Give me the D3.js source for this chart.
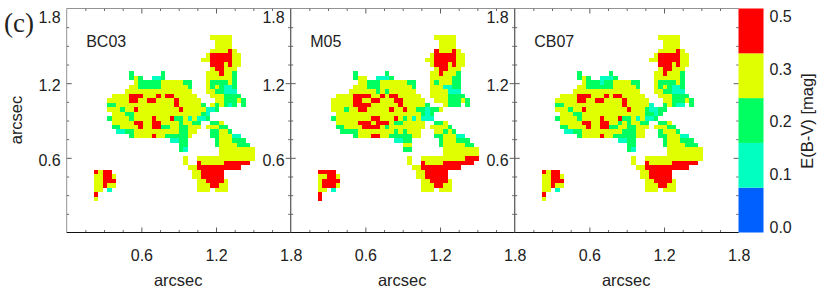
<!DOCTYPE html>
<html>
<head>
<meta charset="utf-8">
<script src="https://cdn.jsdelivr.net/npm/d3@7"></script>
<style>
  body { margin: 0; background: #fff; }
  text { font-family: "Liberation Sans", sans-serif; fill: #222; }
  .domain { display: none; }
</style>
</head>
<body>
<div id="chart"></div>
<script>
"use strict";

// E(B-V) bins, bottom of the colour bar first. b is the blue bin, no pixel uses it
var binCodes = ["b", "t", "g", "y", "r"]
var binColors = ["#0060ff", "#00ffc0", "#00ff60", "#e0ff00", "#ff0000"]
var binLabels = [0.0, 0.1, 0.2, 0.3, 0.5]

var panelNames = ["BC03", "M05", "CB07"]
var majorTicks = [0.6, 1.2, 1.8]
var minorTicks = [0.15, 0.3, 0.45, 0.75, 0.9, 1.05, 1.35, 1.5, 1.65]

// pixel maps, one string per row from the top,
// tokens are column or column range + bin code. pixels are 0.036 arcsec
var cellSize = 0.036
var firstCol = 6, firstRow = 6

var mapBC03 = [
  "26-30y", "27-30y", "27-30y",
  "26-29y 30r 31y",
  "25y 26-30r 31-32y",
  "24-25y 26-30r 31-32y",
  "26-28r 29y 30r 31-32y",
  "26y 27-28r 29-31y",
  "8g 15g 25-27y 28r 29-30y 31g",
  "8g 9y 10g 13-14t 15g 25-30y 31g",
  "9y 10-14g 15-19y 20-21g 25y 26-29g 30y 31g",
  "8-9y 10-14g 15-20y 21g 25y 26g 27y 28g 29-30t 31g",
  "7-21y 25-26y 27-28g 29-31t",
  "4-7y 8-10r 11-13y 14r 15y 16-17r 18-22y 26-28y 29-32g",
  "3-7y 8-9r 10-11y 12-13r 14-17y 18r 19-23y 27-28y 29-31g 32y 33g",
  "3-4g 5-17y 18r 19-23y 24g 26y 27g 28y 29g 30t 31g 33g",
  "3-5y 6g 7-8y 9r 10-18y 19r 20-24y 25-26t 27g",
  "4-6y 7-8g 9-23y 24g 25t",
  "3g 4-7y 8g 9-12y 13r 14-16y 17r 18-19g 20y 21t 22y 23-24t 25g",
  "4-8y 9-10r 11-12y 13-14r 15-18y 19g 20-21y 22-23g 26-27g 28y",
  "4-5g 6-9y 10r 11-12y 13-14r 15-16g 17-18y 19-20g 21-23y 25-27y 28-29g",
  "5-6t 7-8g 9-18y 19-20g 21-22y 26-27g 28-29y 30g",
  "8g 9-12y 13r 14-15y 16-20g 21y 26-27g 28-30y 31-32t",
  "17-18t 19-20g 27g 28-30y 31-33g",
  "19-20g 27g 28-31y 32-34g",
  "19g 20t 28-35y",
  "28-35y",
  "20y 23-35y",
  "20y 23r 24-28y 29-34r",
  "21-22y 23-32r",
  "0r 1y 2-3r 22-23y 24-28r",
  "0-1y 2-3r 4y 22-23y 24-28r",
  "0-1y 2-4r 23-24y 25-28r 29y",
  "0-1y 2r 3-4y 23-25y 26-27r 28-29y",
  "0-1y 3t 23-25y 27-29y",
  "0r",
  "0y"
]

var mapM05 = [
  "26-30y", "27-30y", "27-30y",
  "26r 27-29y 30r 31y",
  "25y 26-30r 31-32y",
  "24-25y 26-30r 31-32y",
  "25y 26-28r 29y 30r 31-32y",
  "26y 27-28r 29-31y",
  "8g 15g 25-26y 27r 28-30y 31g",
  "8g 9-10y 13-15t 16g 25-29y 30-31g",
  "9-10y 11-13g 14-19y 20-21g 25y 26g 27-29y 30-31g",
  "8-10y 11-13g 14-20y 21g 25-27y 28-29t 30-31g",
  "7-12y 13g 14y 15g 16-21y 25-28y 29-31t",
  "4-7y 8-11r 12-13y 14r 15y 16-17r 18-22y 25-28y 29-32g",
  "3-7y 8-9r 10-11y 12-13r 14-16y 17-18r 19-23y 26-28y 29-31g 32y 33g",
  "3-7y 8-11r 12-17y 18r 19-23y 24g 28y 29-31g 33g",
  "3-5y 6g 7-8y 9-10r 11-15y 16r 17-18y 19r 20-21y 22-23g 24t 25-26g 27y",
  "4-22y 23g 24t 25g",
  "3g 4-11y 12-13r 14-16y 17r 18y 19g 20y 21t 22y 23-25t",
  "4-8y 9-11r 12y 13-15r 16y 17-18g 19-23y 26-27g 28y",
  "4-5g 6-9y 10-13r 14y 15g 16-23y 25-28y 29g",
  "5-8g 9-16y 17g 18y 19g 20-22y 26-27y 28g 29y 30g",
  "8g 9-11y 12-13r 14-15y 16-20g 21-22y 26-27g 28-30y 31-32t",
  "17-18t 19-20g 27g 28-30y 31-33g",
  "19-20y 27g 28-32y 33-34g",
  "19-20g 28-35y",
  "28-35y",
  "20y 23-32y 33-35r",
  "20y 23r 24-27y 28-34r",
  "21-22y 23-31r",
  "0-3r 22-23y 24-28r",
  "0-1y 2-3r 4y 22-23y 24-28r",
  "0y 1-4r 23-24y 25-28r 29y",
  "0y 1-3r 4y 23-25y 26-27r 28-29y",
  "0-1y 3t 23-25y 27-29y",
  "0r",
  "0r"
]

var mapCB07 = [
  "26-30y", "27-30y", "27-30y",
  "26-29y 30r 31y",
  "25y 26-30r 31-32y",
  "24-25y 26-30r 31-32y",
  "26-28r 29y 30r 31-32y",
  "26y 27-28r 29-31y",
  "8g 15g 25-26y 27r 28-30y 31g",
  "8g 9y 10g 13-15t 16g 25-30y 31g",
  "9y 10-12g 13t 14-15g 16-19y 20-21g 25y 26-29g 30y 31g",
  "8-9y 10-15g 16-20y 21g 25y 26g 27y 28g 29-30t 31g",
  "7-21y 25-26y 27-28g 29-31t",
  "4-7y 8-10r 11-13y 14r 15y 16-17r 18-22y 26-28y 29-32g",
  "3-7y 8-9r 10-11y 12-13r 14-17y 18r 19-23y 27-28y 29-31g 32y 33g",
  "3-4g 5-17y 18r 19-23y 24t 27g 28y 29g 30-31t 33g",
  "3-5y 6g 7-8y 9r 10-18y 19r 20-22y 23g 24-25t 26-27g",
  "4-6y 7-8g 9-22y 23-24g 25t 26g",
  "3g 4-7y 8g 9-12y 13r 14-16y 17r 18-19g 20y 21t 22y 23-24t 25g",
  "4-8y 9-10r 11-12y 13-14r 15-16y 17g 18y 19g 20-21y 22-23g 26-27g 28y",
  "4-5g 6-9y 10r 11-12y 13-14r 15-16g 17-18y 19-20g 21-23y 25-27y 28-29g",
  "5-6t 7-8g 9-17y 18-20g 21-22y 26g 27-29y 30g",
  "8g 9-12y 13r 14-15y 16-20g 21-22y 26-27g 28-30y 31-32t",
  "17-18t 19-20g 27g 28-30y 31-33g",
  "19-20g 27g 28-31y 32-34g",
  "19g 20t 28-35y",
  "28-35y",
  "20y 23-35y",
  "20y 23r 24-28y 29-34r",
  "21-22y 23-32r",
  "0r 1y 2-3r 22-23y 24-28r",
  "0-1y 2-3r 4y 22-23y 24-28r",
  "0-1y 2-4r 23-24y 25-28r 29y",
  "0-1y 2r 3-4y 23-25y 26-27r 28-29y",
  "0-1y 3t 23-25y 27-29y",
  "0r",
  "0y"
]

var panelMaps = [mapBC03, mapM05, mapCB07]

var svgW = 830, svgH = 291
var boxTop = 8.5, boxSize = 224, boxLeft = 66.7
var barX = 738.5, barW = 25

var svg = d3.select("#chart").append("svg")
    .attr("width", svgW)
    .attr("height", svgH)
    .style("display", "block")

var x = d3.scaleLinear().domain([0, 1.8]).range([0, boxSize])
var y = d3.scaleLinear().domain([0, 1.8]).range([boxSize, 0])
var color = d3.scaleOrdinal(binCodes, binColors)

// turn the row tokens into pixel records
function parseMap(rows) {
  var cells = []
  rows.forEach(function(row, r) {
    row.split(" ").forEach(function(token) {
      var m = token.match(/^(\d+)(?:-(\d+))?([a-z])$/)
      var c0 = +m[1], c1 = m[2] ? +m[2] : c0
      d3.range(c0, c1 + 1).forEach(function(c) {
        cells.push({col: c + firstCol, row: r + firstRow, bin: m[3]})
      })
    })
  })
  return cells
}

function styleLabels(sel) {
  sel.attr("font-size", 16)
      .style("font-family", "Liberation Sans")
      .style("fill", "#222")
}

panelNames.forEach(function(name, i) {
  var g = svg.append("g")
      .attr("transform", "translate(" + (boxLeft + i * boxSize) + "," + boxTop + ")")

  g.selectAll(".pix")
      .data(parseMap(panelMaps[i]))
      .enter()
      .append("rect")
      .attr("class", "pix")
      .attr("x", function(d) { return x(d.col * cellSize) })
      .attr("y", function(d) { return y(1.8 - d.row * cellSize) })
      .attr("width", x(cellSize) - x(0))
      .attr("height", y(0) - y(cellSize))
      .attr("fill", function(d) { return color(d.bin) })
      .attr("shape-rendering", "crispEdges")

  // ticks on all four sides point into the box
  var sides = [
    [d3.axisBottom(x), "translate(0," + boxSize + ")"],
    [d3.axisTop(x), "translate(0,0)"],
    [d3.axisLeft(y), "translate(0,0)"],
    [d3.axisRight(y), "translate(" + boxSize + ",0)"]
  ]
  sides.forEach(function(s) {
    g.append("g").attr("transform", s[1])
        .call(s[0].tickValues(minorTicks).tickSize(-2.5).tickFormat(""))
        .selectAll("line").attr("stroke", "#444").attr("stroke-width", 0.8)
    g.append("g").attr("transform", s[1])
        .call(s[0].tickValues(majorTicks.slice(0, 2)).tickSize(-5).tickFormat(""))
        .selectAll("line").attr("stroke", "#333").attr("stroke-width", 0.8)
  })

  // box
  g.append("line").attr("x1", 0).attr("x2", boxSize).attr("y1", 0).attr("y2", 0)
      .attr("stroke", "#777").attr("stroke-width", 0.8)
  g.append("line").attr("x1", 0).attr("x2", 0).attr("y1", 0).attr("y2", boxSize)
      .attr("stroke", "#777").attr("stroke-width", 0.8)
  g.append("line").attr("x1", 0).attr("x2", boxSize).attr("y1", boxSize).attr("y2", boxSize)
      .attr("stroke", "#111").attr("stroke-width", 1.2)
  if (i < 2) {
    g.append("line").attr("x1", boxSize).attr("x2", boxSize).attr("y1", 0).attr("y2", boxSize)
        .attr("stroke", "#222").attr("stroke-width", 1)
  }

  // x labels
  g.append("g").attr("transform", "translate(0," + boxSize + ")")
      .call(d3.axisBottom(x).tickValues(majorTicks).tickSize(0).tickPadding(17).tickFormat(d3.format(".1f")))
      .selectAll("text").call(styleLabels)

  g.append("text")
      .attr("x", boxSize / 2 - 0.5)
      .attr("y", boxSize + 53)
      .attr("text-anchor", "middle")
      .attr("font-size", 16.5)
      .text("arcsec")

  g.append("text")
      .attr("x", 19.5)
      .attr("y", 38)
      .attr("font-size", 16)
      .text(name)

  // y labels: left of panel 1, and inside panels 1 and 2 near their right edge
  var yOffsets = i == 0 ? [0, boxSize] : i == 1 ? [boxSize] : []
  yOffsets.forEach(function(off) {
    g.append("g").attr("transform", "translate(" + off + ",0)")
        .call(d3.axisLeft(y).tickValues(majorTicks).tickSize(0).tickPadding(6).tickFormat(d3.format(".1f")))
        .selectAll("text").call(styleLabels)
        .attr("dy", function(d) { return d == 1.8 ? "0.88em" : "0.48em" })
  })
})

svg.append("text")
    .attr("transform", "translate(21.5,120) rotate(-90)")
    .attr("text-anchor", "middle")
    .attr("font-size", 16.5)
    .text("arcsec")

svg.append("text")
    .attr("x", 4)
    .attr("y", 32)
    .attr("font-size", 27)
    .style("font-family", "Liberation Serif")
    .text("(c)")

// colour bar
var barY = d3.scaleBand().domain(binCodes).range([232.5, 8.5])
svg.selectAll(".bin")
    .data(binCodes)
    .enter()
    .append("rect")
    .attr("class", "bin")
    .attr("x", barX)
    .attr("width", barW)
    .attr("y", function(d) { return barY(d) })
    .attr("height", barY.bandwidth())
    .attr("fill", function(d) { return color(d) })

var barLab = d3.scalePoint().domain(binLabels).range([227.7, 16])
svg.append("g")
    .attr("transform", "translate(" + (barX + barW) + ",0)")
    .call(d3.axisRight(barLab).tickSize(0).tickPadding(6).tickFormat(d3.format(".1f")))
    .selectAll("text").call(styleLabels)

svg.append("text")
    .attr("transform", "translate(812.5,121) rotate(-90)")
    .attr("text-anchor", "middle")
    .attr("font-size", 16.5)
    .text("E(B-V) [mag]")
</script>
</body>
</html>
